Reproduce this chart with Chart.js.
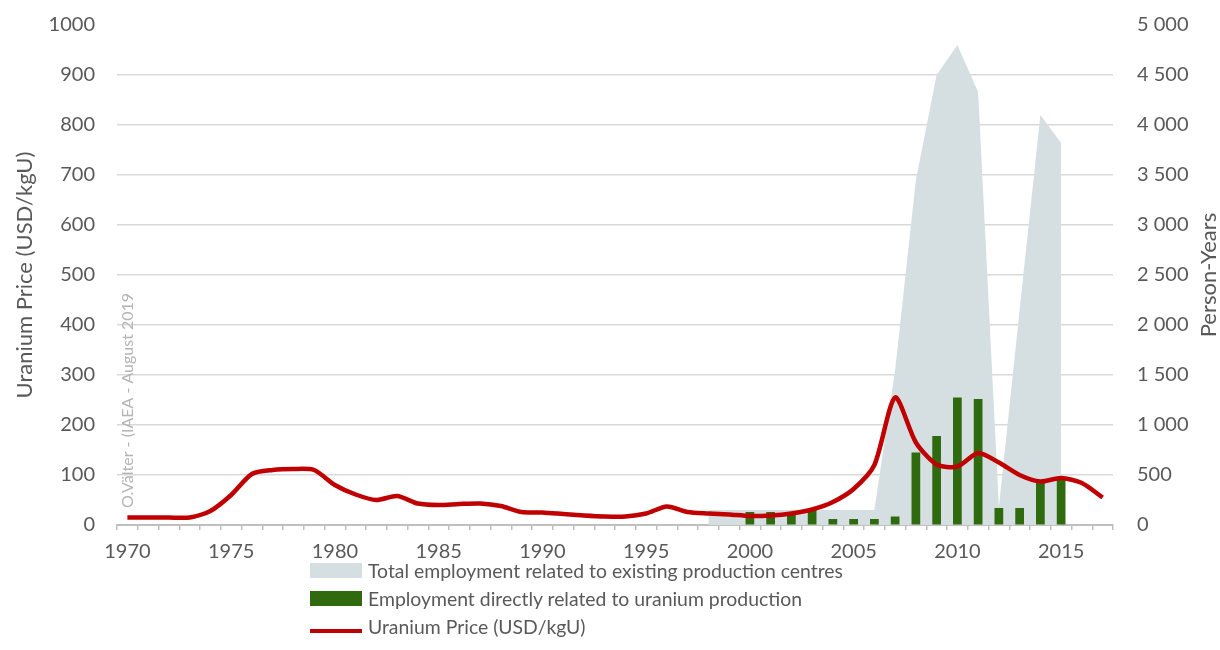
<!DOCTYPE html>
<html>
<head>
<meta charset="utf-8">
<script src="https://cdn.jsdelivr.net/npm/chart.js@4.4.0/dist/chart.umd.min.js"></script>
<style>
  body { margin: 0; background: #fff; }
  #wrap { position: relative; width: 1220px; height: 650px; }
  #legend { position: absolute; left: 310px; top: 556px; font-family: Lato; font-size: 19.4px; color: #595959; }
  .row { height: 28px; display: flex; align-items: center; white-space: nowrap; }
  .sw { width: 52px; margin-right: 6px; flex: none; }
</style>
</head>
<body>
<div id="wrap">
  <canvas id="chart" width="1220" height="650"></canvas>
  <div id="legend"></div>
</div>
<script>
// years on the x axis
var years = [1970, 1971, 1972, 1973, 1974, 1975, 1976, 1977, 1978, 1979,
             1980, 1981, 1982, 1983, 1984, 1985, 1986, 1987, 1988, 1989,
             1990, 1991, 1992, 1993, 1994, 1995, 1996, 1997, 1998, 1999,
             2000, 2001, 2002, 2003, 2004, 2005, 2006, 2007, 2008, 2009,
             2010, 2011, 2012, 2013, 2014, 2015, 2016, 2017];

// uranium price, USD/kgU (left axis)
var price = [15, 15, 15, 15, 28, 60, 102, 110, 112, 110,
             80, 61, 50, 58, 43, 40, 42, 43, 38, 26,
             25, 22, 19, 17, 17, 23, 37, 26, 23, 21,
             18, 19, 23, 31, 46, 72, 120, 255, 165, 121,
             117, 144, 125, 100, 87, 94, 84, 55];

// employment directly related to uranium production, person-years (right axis)
var directJobs = [null, null, null, null, null, null, null, null, null, null,
                  null, null, null, null, null, null, null, null, null, null,
                  null, null, null, null, null, null, null, null, null, null,
                  130, 130, 125, 150, 60, 60, 60, 85, 725, 890,
                  1275, 1260, 170, 170, 420, 470, null, null];

// total employment related to existing production centres, person-years (right axis)
var totalJobs = [null, null, null, null, null, null, null, null, null, null,
                 null, null, null, null, null, null, null, null, null, null,
                 null, null, null, null, null, null, null, null, 150, 150,
                 150, 150, 150, 150, 150, 150, 150, 1550, 3450, 4500,
                 4800, 4330, 180, 2150, 4100, 3820, null, null];

var textColor = '#595959';
Chart.defaults.font.family = 'Lato';
Chart.defaults.font.size = 20;
Chart.defaults.color = textColor;

function spaced(v) {
  return String(v).replace(/\B(?=(\d{3})+(?!\d))/g, ' ');
}

// watermark and the right axis title (which reads bottom to top)
var extraText = {
  id: 'extraText',
  beforeDatasetsDraw: function(chart) {
    var c = chart.ctx;
    c.save();
    c.translate(133, 508);
    c.rotate(-Math.PI / 2);
    c.font = '16px Lato';
    c.fillStyle = '#b4b4b4';
    c.textAlign = 'left';
    c.textBaseline = 'alphabetic';
    c.fillText('O.Välter - (IAEA - August 2019', 0, 0);
    c.restore();

    var a = chart.chartArea;
    c.save();
    c.translate(1209, (a.top + a.bottom) / 2);
    c.rotate(-Math.PI / 2);
    c.font = '22px Lato';
    c.fillStyle = textColor;
    c.textAlign = 'center';
    c.textBaseline = 'middle';
    c.fillText('Person-Years', 0, 0);
    c.restore();
  }
};

var ctx = document.getElementById('chart').getContext('2d');
var chart = new Chart(ctx, {
  type: 'bar',
  data: {
    labels: years,
    datasets: [{
      type: 'line',
      label: 'Uranium Price (USD/kgU)',
      data: price,
      borderColor: '#c00000',
      backgroundColor: '#c00000',
      borderWidth: 4.5,
      pointRadius: 0,
      tension: 0.25,
      yAxisID: 'y',
      order: 0
    }, {
      type: 'bar',
      label: 'Employment directly related to uranium production',
      data: directJobs,
      backgroundColor: '#2f6a0f',
      barPercentage: 0.42,
      categoryPercentage: 1,
      yAxisID: 'y2',
      order: 1
    }, {
      type: 'line',
      label: 'Total employment related to existing production centres',
      data: totalJobs,
      fill: 'origin',
      backgroundColor: '#d5dfe1',
      borderColor: '#d5dfe1',
      borderWidth: 0,
      pointRadius: 0,
      spanGaps: false,
      yAxisID: 'y2',
      order: 2
    }]
  },
  options: {
    responsive: false,
    animation: false,
    layout: { padding: { top: 25, bottom: 90, left: 0, right: 0 } },
    plugins: {
      legend: { display: false },
      tooltip: { enabled: false }
    },
    scales: {
      x: {
        offset: true,
        grid: { drawOnChartArea: false, drawTicks: true, tickLength: 5, offset: true, color: '#bfbfbf', lineWidth: 1.5 },
        border: { display: true, color: '#bfbfbf', width: 2 },
        ticks: {
          autoSkip: false,
          maxRotation: 0,
          padding: 10,
          callback: function(v, i) {
            return years[i] % 5 === 0 ? String(years[i]) : '';
          }
        },
        afterFit: function(s) { s.height = 35; }
      },
      y: {
        position: 'left',
        min: 0,
        max: 1000,
        ticks: { stepSize: 100, padding: 4, callback: function(v) { return String(v); } },
        grid: {
          drawTicks: true,
          tickLength: 18,
          tickColor: 'rgba(0,0,0,0)',
          lineWidth: 1.5,
          color: function(c) { return c.tick && c.tick.value === 1000 ? 'rgba(0,0,0,0)' : '#d9d9d9'; }
        },
        border: { display: false },
        title: { display: true, text: 'Uranium Price (USD/kgU)', font: { size: 22 }, padding: { top: 12, bottom: 0 } },
        afterFit: function(s) { s.width = 117; }
      },
      y2: {
        position: 'right',
        min: 0,
        max: 5000,
        ticks: { stepSize: 500, padding: 4, callback: function(v) { return spaced(v); } },
        grid: { display: true, drawOnChartArea: false, drawTicks: true, tickLength: 20, tickColor: 'rgba(0,0,0,0)' },
        border: { display: false },
        afterFit: function(s) { s.width = 107; }
      }
    }
  },
  plugins: [extraText]
});

// legend below the chart, one item per row
var legendOrder = [2, 1, 0];
var legend = document.getElementById('legend');
legendOrder.forEach(function(i) {
  var ds = chart.data.datasets[i];
  var row = document.createElement('div');
  row.className = 'row';
  var sw = document.createElement('span');
  sw.className = 'sw';
  if (ds.type === 'line' && !ds.fill) {
    sw.style.height = '4px';
    sw.style.background = ds.borderColor;
    sw.style.marginTop = '10px';
  } else {
    sw.style.height = '15px';
    sw.style.background = ds.backgroundColor;
  }
  row.appendChild(sw);
  var t = document.createElement('span');
  t.textContent = ds.label;
  row.appendChild(t);
  legend.appendChild(row);
});
</script>
</body>
</html>
